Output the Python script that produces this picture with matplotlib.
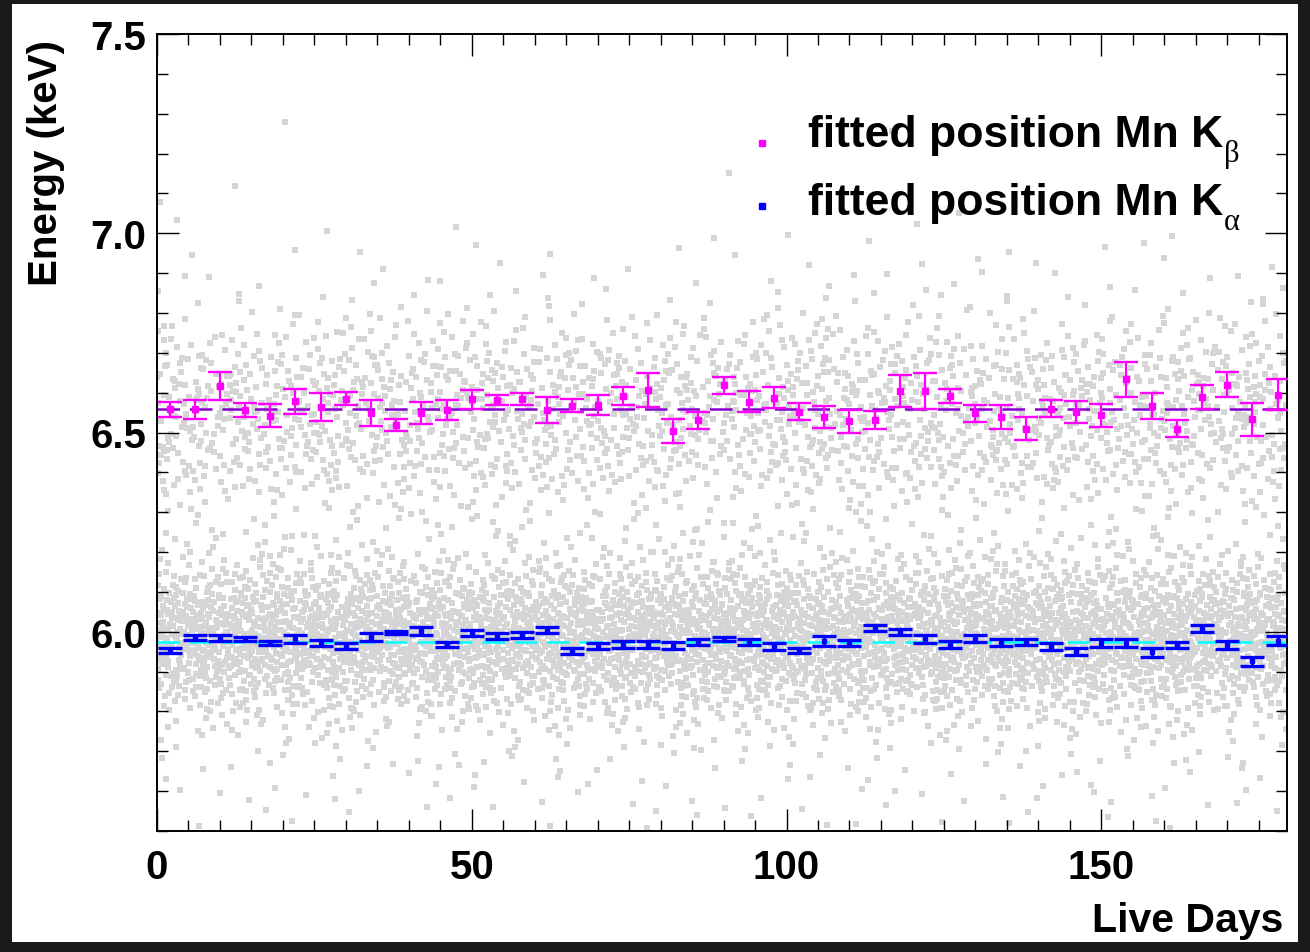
import numpy as np
import matplotlib
matplotlib.use("Agg")
import matplotlib.pyplot as plt
from matplotlib.ticker import MultipleLocator, FormatStrFormatter, FixedLocator
from matplotlib.patches import Rectangle

plt.rcParams['font.family'] = ['Liberation Sans', 'DejaVu Sans']
plt.rcParams['font.weight'] = 'bold'

# ---------------- data ----------------
days = [2, 6, 10, 14, 18, 22, 26, 30, 34, 38, 42, 46, 50, 54, 58, 62,
        66, 70, 74, 78, 82, 86, 90, 94, 98, 102, 106, 110, 114, 118, 122,
        126, 130, 134, 138, 142, 146, 150, 154, 158, 162, 166, 170, 174, 178]

kbeta = [6.558, 6.558, 6.617, 6.556, 6.542, 6.578, 6.564, 6.585, 6.549, 6.518,
         6.549, 6.556, 6.583, 6.581, 6.583, 6.556,
         6.567, 6.568, 6.592, 6.606, 6.503, 6.531, 6.618, 6.577, 6.587, 6.552,
         6.539, 6.528, 6.531, 6.604, 6.604,
         6.592, 6.548, 6.539, 6.510, 6.560, 6.552, 6.543, 6.633, 6.567, 6.510,
         6.588, 6.620, 6.533, 6.595]
kbeta_err = [0.018, 0.024, 0.035, 0.017, 0.029, 0.032, 0.036, 0.017, 0.033, 0.015,
             0.027, 0.025, 0.024, 0.013, 0.015, 0.033,
             0.016, 0.025, 0.023, 0.043, 0.030, 0.021, 0.022, 0.026, 0.026, 0.021,
             0.027, 0.029, 0.023, 0.040, 0.046,
             0.018, 0.022, 0.031, 0.028, 0.021, 0.028, 0.029, 0.045, 0.033, 0.022,
             0.030, 0.032, 0.041, 0.038]

kalpha = [5.953, 5.986, 5.984, 5.983, 5.972, 5.982, 5.972, 5.964, 5.987, 5.998,
          6.002, 5.968, 5.997, 5.989, 5.992, 6.004,
          5.951, 5.964, 5.968, 5.968, 5.965, 5.975, 5.981, 5.975, 5.963, 5.953,
          5.977, 5.971, 6.010, 5.999, 5.981,
          5.968, 5.983, 5.973, 5.974, 5.962, 5.951, 5.971, 5.971, 5.948, 5.967,
          6.008, 5.966, 5.926, 5.978]
kalpha_err = [0.007, 0.007, 0.008, 0.005, 0.006, 0.010, 0.008, 0.007, 0.011, 0.004,
              0.010, 0.007, 0.008, 0.007, 0.007, 0.008,
              0.007, 0.008, 0.008, 0.010, 0.009, 0.007, 0.005, 0.007, 0.009, 0.007,
              0.012, 0.008, 0.008, 0.008, 0.010,
              0.008, 0.009, 0.008, 0.008, 0.009, 0.009, 0.010, 0.010, 0.011, 0.008,
              0.008, 0.010, 0.011, 0.011]

kbeta_fit = 6.558
kalpha_fit = 5.974

# background event cloud: counts per 0.05 keV energy band (full time range)
band_lo = [5.50, 5.55, 5.60, 5.65, 5.70, 5.75, 5.80, 5.85, 5.90, 5.95,
           6.00, 6.05, 6.10, 6.15, 6.20, 6.25, 6.30, 6.35, 6.40, 6.45,
           6.50, 6.55, 6.60, 6.65, 6.70, 6.75, 6.80, 6.85, 6.90, 6.95,
           7.00, 7.05, 7.10, 7.15, 7.20, 7.25, 7.30, 7.35, 7.40, 7.45]
band_counts = [15, 25, 28, 38, 55, 120, 260, 480, 700, 850,
               820, 620, 360, 170, 90, 60, 80, 150, 220, 260,
               270, 280, 260, 210, 125, 75, 35, 24, 16, 12,
               3, 2, 1, 1, 0, 1, 0, 0, 0, 0]

yticks_major = [6.0, 6.5, 7.0, 7.5]
xticks_major = [0, 50, 100, 150]
x_label_txt = "Live Days"
y_label_txt = "Energy (keV)"
leg_main = "fitted position Mn K"
leg_subs = ["\u03b2", "\u03b1"]

# ---------------- figure ----------------
W, H = 1310, 953
fig = plt.figure(figsize=(W / 100, H / 100), dpi=100)
fig.patch.set_facecolor('#1b1b1b')
fig.add_artist(Rectangle((12 / W, (H - 943) / H), 1286 / W, 938 / H,
                         transform=fig.transFigure, facecolor='white',
                         edgecolor='none', zorder=0))

ax = fig.add_axes([157 / W, (H - 832) / H, (1287 - 157) / W, (832 - 35) / H])
ax.set_facecolor('white')
xmax = 179.5
ax.set_xlim(0, xmax)
ax.set_ylim(5.5, 7.5)


def halton(n, base):
    out = np.zeros(n)
    for i in range(n):
        f, r, k = 1.0, 0.0, i + 1
        while k > 0:
            f /= base
            r += f * (k % base)
            k //= base
        out[i] = r
    return out

# deterministic (Halton) placement, thinned to follow the read band profile
ncand = 36000
hx = halton(ncand, 2)
hy = halton(ncand, 3)
hz = halton(ncand, 5)
ylo, yhi = 5.5, 7.5
cy = ylo + hy * (yhi - ylo)
idx = np.clip(((cy - ylo) / 0.05).astype(int), 0, len(band_counts) - 1)
expected_per_band = ncand / len(band_counts)
accept_p = np.array(band_counts, float)[idx] / expected_per_band
keep = hz < accept_p
gx = hx[keep] * xmax
gy = cy[keep]
ax.scatter(gx, gy, marker='s', s=19, c='#d5d5d5', linewidths=0, zorder=1)

# fit lines
xr = ax.get_xlim()
ax.plot(xr, [kbeta_fit, kbeta_fit], color='#8a00d0', lw=1.8,
        dashes=(9, 4), zorder=2)
ax.plot(xr, [kalpha_fit, kalpha_fit], color='#00ffff', lw=1.8,
        dashes=(9, 4), zorder=2)

ax.errorbar(days, kbeta, yerr=kbeta_err, fmt='s', color='#ff00ff', ms=4.3,
            elinewidth=1.6, capsize=8.5, capthick=1.7, zorder=3)
ax.errorbar(days, kalpha, yerr=kalpha_err, fmt='s', color='#0000ff', ms=3.5,
            elinewidth=2.0, capsize=8.5, capthick=2.4, zorder=3)

# axes styling
for s in ax.spines.values():
    s.set_linewidth(1.4)
    s.set_color('black')
ax.xaxis.set_major_locator(FixedLocator(xticks_major))
ax.xaxis.set_minor_locator(MultipleLocator(5))
ax.yaxis.set_major_locator(FixedLocator(yticks_major))
ax.yaxis.set_minor_locator(MultipleLocator(0.1))
ax.yaxis.set_major_formatter(FormatStrFormatter('%.1f'))
ax.xaxis.set_major_formatter(FormatStrFormatter('%d'))
ax.tick_params(which='both', direction='in', top=True, right=True,
               width=1.0, color='black')
ax.tick_params(which='major', length=16, labelsize=29)
ax.tick_params(which='minor', length=8)
ax.tick_params(axis='x', which='major', pad=12)
ax.tick_params(axis='y', which='major', pad=8)
for lab in ax.get_xticklabels() + ax.get_yticklabels():
    lab.set_fontweight('bold')

fig.text(46 / W, (H - 40) / H, y_label_txt, rotation=90, ha='center',
         va='top', fontsize=29, fontweight='bold')
fig.text(1283 / W, (H - 921) / H, x_label_txt, ha='right', va='center',
         fontsize=29.5, fontweight='bold')

# legend
leg_colors = ['#ff00ff', '#0000ff']
marker_y = [144, 207]
base_y = [147, 215]
renderer = fig.canvas.get_renderer()
for col, my, by, sub in zip(leg_colors, marker_y, base_y, leg_subs):
    fig.add_artist(plt.Line2D([762 / W], [(H - my) / H], marker='s', ms=4.5,
                              color=col, transform=fig.transFigure))
    t = fig.text(808 / W, (H - by) / H, leg_main, ha='left', va='baseline',
                 fontsize=32, fontweight='bold')
    bb = t.get_window_extent(renderer=renderer)
    fig.text((bb.x1 + 1) / W, (H - by - 15) / H, sub, ha='left',
             va='baseline', fontsize=22, fontweight='normal',
             family=['Liberation Serif', 'DejaVu Serif'])

fig.savefig('out.png', dpi=100, facecolor=fig.get_facecolor())
